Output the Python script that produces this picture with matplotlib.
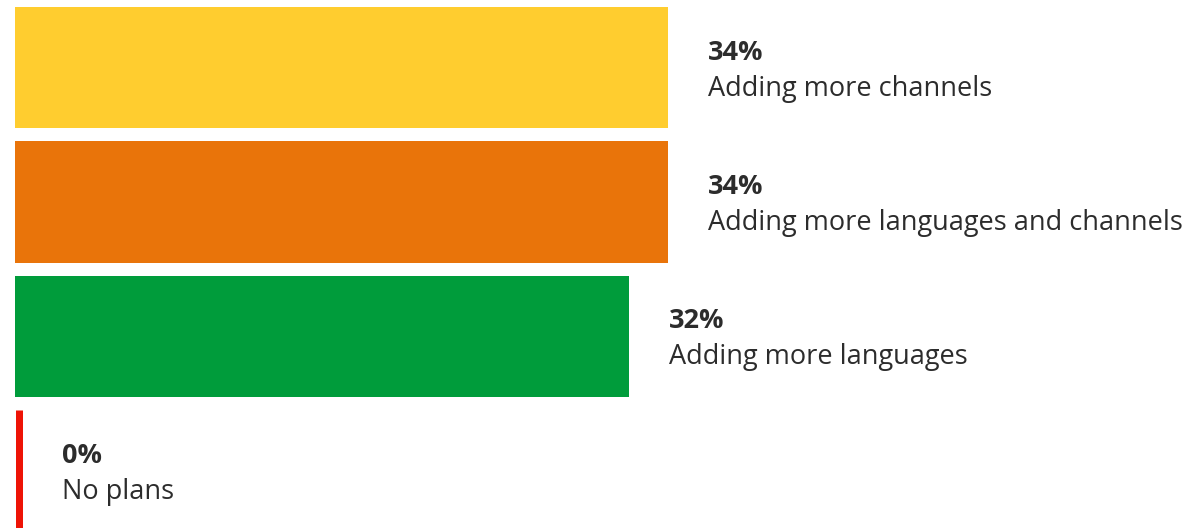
import matplotlib.pyplot as plt

# survey answers, top to bottom
labels = ['Adding more channels', 'Adding more languages and channels',
          'Adding more languages', 'No plans']
values = [34, 34, 32, 0]
colors = ['#FFCD2F', '#E9740A', '#009C3B', '#EE1306']

plt.rcParams['font.family'] = ['Open Sans', 'DejaVu Sans']
text_color = '#2C2C2C'

fig = plt.figure(figsize=(11.87, 5.28), dpi=100)
ax = fig.add_axes([0, 0, 1, 1])

px = 19.2  # pixels per percent point
rows = list(range(len(values)))
ax.barh(rows, values, height=0.9, color=colors)

# zero answers still get a thin stub so the row shows up
stub = 7  # pixels
for i, v in enumerate(values):
    if v == 0:
        x = stub / 2 / px
        ax.plot([x, x], [i - 0.45, i + 0.45], color=colors[i],
                lw=stub * 0.72, solid_capstyle='butt')

for i, (v, lab) in enumerate(zip(values, labels)):
    dx = 40 + (stub if v == 0 else 0)
    ax.annotate(f'{v}%', xy=(v, i), xytext=(dx * 0.72, 15 * 0.72),
                textcoords='offset points', ha='left', va='center',
                fontsize=19.5, fontweight='bold', color=text_color)
    ax.annotate(lab, xy=(v, i), xytext=(dx * 0.72, -21 * 0.72),
                textcoords='offset points', ha='left', va='center',
                fontsize=19.5, color=text_color)

# bars start 15 px from the left edge
ax.set_xlim(-15 / px, (1187 - 15) / px)
ax.set_ylim(3.424, -0.502)
ax.axis('off')

fig.savefig('out.png', dpi=100)
